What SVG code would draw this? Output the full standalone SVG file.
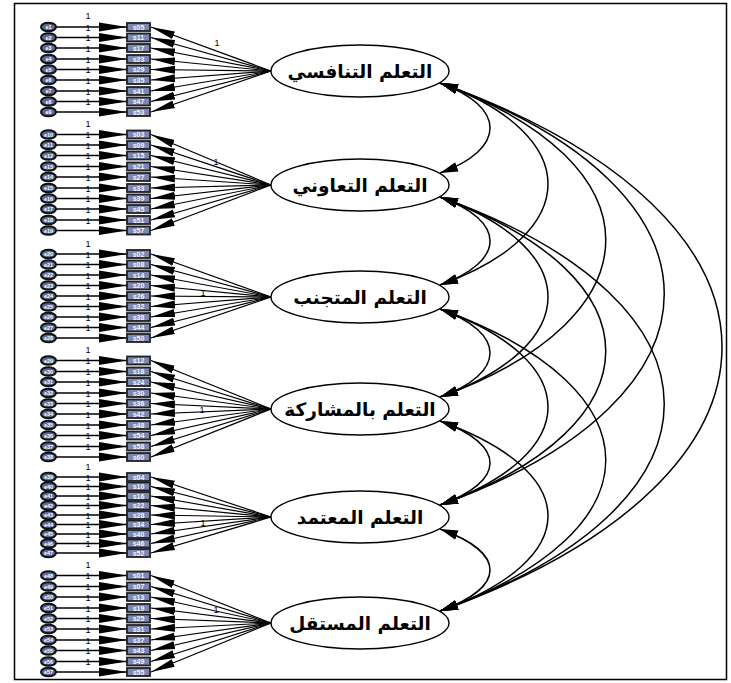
<svg xmlns="http://www.w3.org/2000/svg" width="731" height="683" viewBox="0 0 731 683">
<defs>
<marker id="ah1" markerUnits="userSpaceOnUse" markerWidth="28" markerHeight="10" refX="28" refY="5" orient="auto"><path d="M0,0.5 L28,5 L0,9.5 z" fill="#000"/></marker>
<marker id="ah2" markerUnits="userSpaceOnUse" markerWidth="24" markerHeight="10" refX="24" refY="5" orient="auto"><path d="M0,1 L24,5 L0,9 z" fill="#000"/></marker>
<marker id="ah3" markerUnits="userSpaceOnUse" markerWidth="18" markerHeight="11" refX="18" refY="5.5" orient="auto-start-reverse"><path d="M0,0.5 L18,5.5 L0,10.5 z" fill="#000"/></marker>
</defs>
<style>
.err ellipse{fill:#5d6a96;stroke:#111;stroke-width:2}
.err text{font-family:"Liberation Sans",Arial,sans-serif;font-weight:bold;font-size:5.5px;fill:#fff;text-anchor:middle}
.obs rect{fill:#7a88b2;stroke:#222;stroke-width:1.8}
.obs text{font-family:"Liberation Sans",Arial,sans-serif;font-weight:bold;font-size:7px;fill:#f4f4ff;text-anchor:middle}
.lat ellipse{fill:#fff;stroke:#000;stroke-width:1.4}
.lat text{font-family:"DejaVu Sans",sans-serif;font-weight:bold;font-size:18.5px;fill:#000;text-anchor:middle}
.ep{stroke:#000;stroke-width:1.4;marker-end:url(#ah1)}
.ld{stroke:#000;stroke-width:1.2;marker-end:url(#ah2)}
.cv{fill:none;stroke:#000;stroke-width:1.5;marker-start:url(#ah3);marker-end:url(#ah3)}
.one{font-family:"Liberation Sans",Arial,sans-serif;font-size:9px;fill:#000;text-anchor:middle}
</style>
<rect x="14.5" y="3.5" width="712" height="676" fill="#fff" stroke="#000" stroke-width="1.5"/>
<g id="connectors">
<!-- group 1 -->
<line class="ep" x1="56" y1="27" x2="127" y2="27"/><line class="ep" x1="56" y1="37.5" x2="127" y2="37.5"/><line class="ep" x1="56" y1="48" x2="127" y2="48"/><line class="ep" x1="56" y1="59" x2="127" y2="59"/><line class="ep" x1="56" y1="69.5" x2="127" y2="69.5"/><line class="ep" x1="56" y1="80" x2="127" y2="80"/><line class="ep" x1="56" y1="91" x2="127" y2="91"/><line class="ep" x1="56" y1="101.5" x2="127" y2="101.5"/><line class="ep" x1="56" y1="112" x2="127" y2="112"/>
<line class="ld" x1="271" y1="71" x2="151" y2="27"/><line class="ld" x1="271" y1="71" x2="151" y2="37.5"/><line class="ld" x1="271" y1="71" x2="151" y2="48"/><line class="ld" x1="271" y1="71" x2="151" y2="59"/><line class="ld" x1="271" y1="71" x2="151" y2="69.5"/><line class="ld" x1="271" y1="71" x2="151" y2="80"/><line class="ld" x1="271" y1="71" x2="151" y2="91"/><line class="ld" x1="271" y1="71" x2="151" y2="101.5"/><line class="ld" x1="271" y1="71" x2="151" y2="112"/>
<!-- group 2 -->
<line class="ep" x1="56" y1="134.5" x2="127" y2="134.5"/><line class="ep" x1="56" y1="145" x2="127" y2="145"/><line class="ep" x1="56" y1="155.5" x2="127" y2="155.5"/><line class="ep" x1="56" y1="166.5" x2="127" y2="166.5"/><line class="ep" x1="56" y1="177" x2="127" y2="177"/><line class="ep" x1="56" y1="188" x2="127" y2="188"/><line class="ep" x1="56" y1="198.5" x2="127" y2="198.5"/><line class="ep" x1="56" y1="209" x2="127" y2="209"/><line class="ep" x1="56" y1="220" x2="127" y2="220"/><line class="ep" x1="56" y1="230.5" x2="127" y2="230.5"/>
<line class="ld" x1="271" y1="185" x2="151" y2="134.5"/><line class="ld" x1="271" y1="185" x2="151" y2="145"/><line class="ld" x1="271" y1="185" x2="151" y2="155.5"/><line class="ld" x1="271" y1="185" x2="151" y2="166.5"/><line class="ld" x1="271" y1="185" x2="151" y2="177"/><line class="ld" x1="271" y1="185" x2="151" y2="188"/><line class="ld" x1="271" y1="185" x2="151" y2="198.5"/><line class="ld" x1="271" y1="185" x2="151" y2="209"/><line class="ld" x1="271" y1="185" x2="151" y2="220"/><line class="ld" x1="271" y1="185" x2="151" y2="230.5"/>
<!-- group 3 -->
<line class="ep" x1="56" y1="254" x2="127" y2="254"/><line class="ep" x1="56" y1="264.5" x2="127" y2="264.5"/><line class="ep" x1="56" y1="275" x2="127" y2="275"/><line class="ep" x1="56" y1="285.5" x2="127" y2="285.5"/><line class="ep" x1="56" y1="296" x2="127" y2="296"/><line class="ep" x1="56" y1="306.5" x2="127" y2="306.5"/><line class="ep" x1="56" y1="317" x2="127" y2="317"/><line class="ep" x1="56" y1="327.5" x2="127" y2="327.5"/><line class="ep" x1="56" y1="338" x2="127" y2="338"/>
<line class="ld" x1="271" y1="297" x2="151" y2="254"/><line class="ld" x1="271" y1="297" x2="151" y2="264.5"/><line class="ld" x1="271" y1="297" x2="151" y2="275"/><line class="ld" x1="271" y1="297" x2="151" y2="285.5"/><line class="ld" x1="271" y1="297" x2="151" y2="296"/><line class="ld" x1="271" y1="297" x2="151" y2="306.5"/><line class="ld" x1="271" y1="297" x2="151" y2="317"/><line class="ld" x1="271" y1="297" x2="151" y2="327.5"/><line class="ld" x1="271" y1="297" x2="151" y2="338"/>
<!-- group 4 -->
<line class="ep" x1="56" y1="360.5" x2="127" y2="360.5"/><line class="ep" x1="56" y1="371.5" x2="127" y2="371.5"/><line class="ep" x1="56" y1="382" x2="127" y2="382"/><line class="ep" x1="56" y1="393" x2="127" y2="393"/><line class="ep" x1="56" y1="403.5" x2="127" y2="403.5"/><line class="ep" x1="56" y1="414" x2="127" y2="414"/><line class="ep" x1="56" y1="425" x2="127" y2="425"/><line class="ep" x1="56" y1="435.5" x2="127" y2="435.5"/><line class="ep" x1="56" y1="446.5" x2="127" y2="446.5"/><line class="ep" x1="56" y1="457" x2="127" y2="457"/>
<line class="ld" x1="271" y1="409" x2="151" y2="360.5"/><line class="ld" x1="271" y1="409" x2="151" y2="371.5"/><line class="ld" x1="271" y1="409" x2="151" y2="382"/><line class="ld" x1="271" y1="409" x2="151" y2="393"/><line class="ld" x1="271" y1="409" x2="151" y2="403.5"/><line class="ld" x1="271" y1="409" x2="151" y2="414"/><line class="ld" x1="271" y1="409" x2="151" y2="425"/><line class="ld" x1="271" y1="409" x2="151" y2="435.5"/><line class="ld" x1="271" y1="409" x2="151" y2="446.5"/><line class="ld" x1="271" y1="409" x2="151" y2="457"/>
<!-- group 5 -->
<line class="ep" x1="56" y1="477" x2="127" y2="477"/><line class="ep" x1="56" y1="486.5" x2="127" y2="486.5"/><line class="ep" x1="56" y1="496" x2="127" y2="496"/><line class="ep" x1="56" y1="505.5" x2="127" y2="505.5"/><line class="ep" x1="56" y1="515" x2="127" y2="515"/><line class="ep" x1="56" y1="524.5" x2="127" y2="524.5"/><line class="ep" x1="56" y1="534" x2="127" y2="534"/><line class="ep" x1="56" y1="543.5" x2="127" y2="543.5"/><line class="ep" x1="56" y1="553" x2="127" y2="553"/>
<line class="ld" x1="271" y1="517" x2="151" y2="477"/><line class="ld" x1="271" y1="517" x2="151" y2="486.5"/><line class="ld" x1="271" y1="517" x2="151" y2="496"/><line class="ld" x1="271" y1="517" x2="151" y2="505.5"/><line class="ld" x1="271" y1="517" x2="151" y2="515"/><line class="ld" x1="271" y1="517" x2="151" y2="524.5"/><line class="ld" x1="271" y1="517" x2="151" y2="534"/><line class="ld" x1="271" y1="517" x2="151" y2="543.5"/><line class="ld" x1="271" y1="517" x2="151" y2="553"/>
<!-- group 6 -->
<line class="ep" x1="56" y1="575.5" x2="127" y2="575.5"/><line class="ep" x1="56" y1="586.5" x2="127" y2="586.5"/><line class="ep" x1="56" y1="597" x2="127" y2="597"/><line class="ep" x1="56" y1="608" x2="127" y2="608"/><line class="ep" x1="56" y1="618.5" x2="127" y2="618.5"/><line class="ep" x1="56" y1="629" x2="127" y2="629"/><line class="ep" x1="56" y1="640" x2="127" y2="640"/><line class="ep" x1="56" y1="650.5" x2="127" y2="650.5"/><line class="ep" x1="56" y1="661.5" x2="127" y2="661.5"/><line class="ep" x1="56" y1="672" x2="127" y2="672"/>
<line class="ld" x1="271" y1="623" x2="151" y2="575.5"/><line class="ld" x1="271" y1="623" x2="151" y2="586.5"/><line class="ld" x1="271" y1="623" x2="151" y2="597"/><line class="ld" x1="271" y1="623" x2="151" y2="608"/><line class="ld" x1="271" y1="623" x2="151" y2="618.5"/><line class="ld" x1="271" y1="623" x2="151" y2="629"/><line class="ld" x1="271" y1="623" x2="151" y2="640"/><line class="ld" x1="271" y1="623" x2="151" y2="650.5"/><line class="ld" x1="271" y1="623" x2="151" y2="661.5"/><line class="ld" x1="271" y1="623" x2="151" y2="672"/>
<!-- covariances -->
<path class="cv" d="M440,83 C506.7,107 506.7,149 440,173"/>
<path class="cv" d="M440,197 C506.7,221 506.7,261 440,285"/>
<path class="cv" d="M440,309 C506.7,333 506.7,373 440,397"/>
<path class="cv" d="M440,421 C506.7,445 506.7,481 440,505"/>
<path class="cv" d="M440,529 C506.7,553 506.7,587 440,611"/>
<path class="cv" d="M440,83 C584,135 584,233 440,285"/>
<path class="cv" d="M440,197 C584,249 584,345 440,397"/>
<path class="cv" d="M440,309 C584,361 584,453 440,505"/>
<path class="cv" d="M440,421 C584,473 584,559 440,611"/>
<path class="cv" d="M440,83 C661,163 661,317 440,397"/>
<path class="cv" d="M440,197 C661,277 661,425 440,505"/>
<path class="cv" d="M440,309 C661,389 661,531 440,611"/>
<path class="cv" d="M440,83 C739,190 739,398 440,505"/>
<path class="cv" d="M440,197 C739,304 739,504 440,611"/>
<path class="cv" d="M440,83 C816,218 816,476 440,611"/>
</g>
<g id="path-labels">
<text class="one" x="88" y="19">1</text><text class="one" x="88" y="30.5">1</text><text class="one" x="88" y="41">1</text><text class="one" x="88" y="51.5">1</text><text class="one" x="88" y="62.5">1</text><text class="one" x="88" y="73">1</text><text class="one" x="88" y="83.5">1</text><text class="one" x="88" y="94.5">1</text><text class="one" x="88" y="105">1</text>
<text class="one" x="88" y="127">1</text><text class="one" x="88" y="138">1</text><text class="one" x="88" y="148.5">1</text><text class="one" x="88" y="159">1</text><text class="one" x="88" y="170">1</text><text class="one" x="88" y="180.5">1</text><text class="one" x="88" y="191.5">1</text><text class="one" x="88" y="202">1</text><text class="one" x="88" y="212.5">1</text><text class="one" x="88" y="223.5">1</text>
<text class="one" x="88" y="246.5">1</text><text class="one" x="88" y="257.5">1</text><text class="one" x="88" y="268">1</text><text class="one" x="88" y="278.5">1</text><text class="one" x="88" y="289">1</text><text class="one" x="88" y="299.5">1</text><text class="one" x="88" y="310">1</text><text class="one" x="88" y="320.5">1</text><text class="one" x="88" y="331">1</text>
<text class="one" x="88" y="352.5">1</text><text class="one" x="88" y="364">1</text><text class="one" x="88" y="375">1</text><text class="one" x="88" y="385.5">1</text><text class="one" x="88" y="396.5">1</text><text class="one" x="88" y="407">1</text><text class="one" x="88" y="417.5">1</text><text class="one" x="88" y="428.5">1</text><text class="one" x="88" y="439">1</text><text class="one" x="88" y="450">1</text>
<text class="one" x="88" y="469.5">1</text><text class="one" x="88" y="480.5">1</text><text class="one" x="88" y="490">1</text><text class="one" x="88" y="499.5">1</text><text class="one" x="88" y="509">1</text><text class="one" x="88" y="518.5">1</text><text class="one" x="88" y="528">1</text><text class="one" x="88" y="537.5">1</text><text class="one" x="88" y="547">1</text>
<text class="one" x="88" y="568">1</text><text class="one" x="88" y="579">1</text><text class="one" x="88" y="590">1</text><text class="one" x="88" y="600.5">1</text><text class="one" x="88" y="611.5">1</text><text class="one" x="88" y="622">1</text><text class="one" x="88" y="632.5">1</text><text class="one" x="88" y="643.5">1</text><text class="one" x="88" y="654">1</text><text class="one" x="88" y="665">1</text>
<text class="one" x="217" y="46">1</text>
<text class="one" x="216" y="165">1</text>
<text class="one" x="203" y="296">1</text>
<text class="one" x="202" y="413">1</text>
<text class="one" x="203" y="526">1</text>
<text class="one" x="216" y="613">1</text>
</g>
<!-- error terms -->
<g id="e1" class="err"><ellipse cx="48.5" cy="27" rx="7.5" ry="4.3"/><text x="48.5" y="29">e1</text></g>
<g id="e2" class="err"><ellipse cx="48.5" cy="37.5" rx="7.5" ry="4.3"/><text x="48.5" y="39.5">e2</text></g>
<g id="e3" class="err"><ellipse cx="48.5" cy="48" rx="7.5" ry="4.3"/><text x="48.5" y="50">e3</text></g>
<g id="e4" class="err"><ellipse cx="48.5" cy="59" rx="7.5" ry="4.3"/><text x="48.5" y="61">e4</text></g>
<g id="e5" class="err"><ellipse cx="48.5" cy="69.5" rx="7.5" ry="4.3"/><text x="48.5" y="71.5">e5</text></g>
<g id="e6" class="err"><ellipse cx="48.5" cy="80" rx="7.5" ry="4.3"/><text x="48.5" y="82">e6</text></g>
<g id="e7" class="err"><ellipse cx="48.5" cy="91" rx="7.5" ry="4.3"/><text x="48.5" y="93">e7</text></g>
<g id="e8" class="err"><ellipse cx="48.5" cy="101.5" rx="7.5" ry="4.3"/><text x="48.5" y="103.5">e8</text></g>
<g id="e9" class="err"><ellipse cx="48.5" cy="112" rx="7.5" ry="4.3"/><text x="48.5" y="114">e9</text></g>
<g id="e10" class="err"><ellipse cx="48.5" cy="134.5" rx="7.5" ry="4.3"/><text x="48.5" y="136.5">e10</text></g>
<g id="e11" class="err"><ellipse cx="48.5" cy="145" rx="7.5" ry="4.3"/><text x="48.5" y="147">e11</text></g>
<g id="e12" class="err"><ellipse cx="48.5" cy="155.5" rx="7.5" ry="4.3"/><text x="48.5" y="157.5">e12</text></g>
<g id="e13" class="err"><ellipse cx="48.5" cy="166.5" rx="7.5" ry="4.3"/><text x="48.5" y="168.5">e13</text></g>
<g id="e14" class="err"><ellipse cx="48.5" cy="177" rx="7.5" ry="4.3"/><text x="48.5" y="179">e14</text></g>
<g id="e15" class="err"><ellipse cx="48.5" cy="188" rx="7.5" ry="4.3"/><text x="48.5" y="190">e15</text></g>
<g id="e16" class="err"><ellipse cx="48.5" cy="198.5" rx="7.5" ry="4.3"/><text x="48.5" y="200.5">e16</text></g>
<g id="e17" class="err"><ellipse cx="48.5" cy="209" rx="7.5" ry="4.3"/><text x="48.5" y="211">e17</text></g>
<g id="e18" class="err"><ellipse cx="48.5" cy="220" rx="7.5" ry="4.3"/><text x="48.5" y="222">e18</text></g>
<g id="e19" class="err"><ellipse cx="48.5" cy="230.5" rx="7.5" ry="4.3"/><text x="48.5" y="232.5">e19</text></g>
<g id="e20" class="err"><ellipse cx="48.5" cy="254" rx="7.5" ry="4.3"/><text x="48.5" y="256">e20</text></g>
<g id="e21" class="err"><ellipse cx="48.5" cy="264.5" rx="7.5" ry="4.3"/><text x="48.5" y="266.5">e21</text></g>
<g id="e22" class="err"><ellipse cx="48.5" cy="275" rx="7.5" ry="4.3"/><text x="48.5" y="277">e22</text></g>
<g id="e23" class="err"><ellipse cx="48.5" cy="285.5" rx="7.5" ry="4.3"/><text x="48.5" y="287.5">e23</text></g>
<g id="e24" class="err"><ellipse cx="48.5" cy="296" rx="7.5" ry="4.3"/><text x="48.5" y="298">e24</text></g>
<g id="e25" class="err"><ellipse cx="48.5" cy="306.5" rx="7.5" ry="4.3"/><text x="48.5" y="308.5">e25</text></g>
<g id="e26" class="err"><ellipse cx="48.5" cy="317" rx="7.5" ry="4.3"/><text x="48.5" y="319">e26</text></g>
<g id="e27" class="err"><ellipse cx="48.5" cy="327.5" rx="7.5" ry="4.3"/><text x="48.5" y="329.5">e27</text></g>
<g id="e28" class="err"><ellipse cx="48.5" cy="338" rx="7.5" ry="4.3"/><text x="48.5" y="340">e28</text></g>
<g id="e29" class="err"><ellipse cx="48.5" cy="360.5" rx="7.5" ry="4.3"/><text x="48.5" y="362.5">e29</text></g>
<g id="e30" class="err"><ellipse cx="48.5" cy="371.5" rx="7.5" ry="4.3"/><text x="48.5" y="373.5">e30</text></g>
<g id="e31" class="err"><ellipse cx="48.5" cy="382" rx="7.5" ry="4.3"/><text x="48.5" y="384">e31</text></g>
<g id="e32" class="err"><ellipse cx="48.5" cy="393" rx="7.5" ry="4.3"/><text x="48.5" y="395">e32</text></g>
<g id="e33" class="err"><ellipse cx="48.5" cy="403.5" rx="7.5" ry="4.3"/><text x="48.5" y="405.5">e33</text></g>
<g id="e34" class="err"><ellipse cx="48.5" cy="414" rx="7.5" ry="4.3"/><text x="48.5" y="416">e34</text></g>
<g id="e35" class="err"><ellipse cx="48.5" cy="425" rx="7.5" ry="4.3"/><text x="48.5" y="427">e35</text></g>
<g id="e36" class="err"><ellipse cx="48.5" cy="435.5" rx="7.5" ry="4.3"/><text x="48.5" y="437.5">e36</text></g>
<g id="e37" class="err"><ellipse cx="48.5" cy="446.5" rx="7.5" ry="4.3"/><text x="48.5" y="448.5">e37</text></g>
<g id="e38" class="err"><ellipse cx="48.5" cy="457" rx="7.5" ry="4.3"/><text x="48.5" y="459">e38</text></g>
<g id="e39" class="err"><ellipse cx="48.5" cy="477" rx="7.5" ry="4.3"/><text x="48.5" y="479">e39</text></g>
<g id="e40" class="err"><ellipse cx="48.5" cy="486.5" rx="7.5" ry="4.3"/><text x="48.5" y="488.5">e40</text></g>
<g id="e41" class="err"><ellipse cx="48.5" cy="496" rx="7.5" ry="4.3"/><text x="48.5" y="498">e41</text></g>
<g id="e42" class="err"><ellipse cx="48.5" cy="505.5" rx="7.5" ry="4.3"/><text x="48.5" y="507.5">e42</text></g>
<g id="e43" class="err"><ellipse cx="48.5" cy="515" rx="7.5" ry="4.3"/><text x="48.5" y="517">e43</text></g>
<g id="e44" class="err"><ellipse cx="48.5" cy="524.5" rx="7.5" ry="4.3"/><text x="48.5" y="526.5">e44</text></g>
<g id="e45" class="err"><ellipse cx="48.5" cy="534" rx="7.5" ry="4.3"/><text x="48.5" y="536">e45</text></g>
<g id="e46" class="err"><ellipse cx="48.5" cy="543.5" rx="7.5" ry="4.3"/><text x="48.5" y="545.5">e46</text></g>
<g id="e47" class="err"><ellipse cx="48.5" cy="553" rx="7.5" ry="4.3"/><text x="48.5" y="555">e47</text></g>
<g id="e48" class="err"><ellipse cx="48.5" cy="575.5" rx="7.5" ry="4.3"/><text x="48.5" y="577.5">e48</text></g>
<g id="e49" class="err"><ellipse cx="48.5" cy="586.5" rx="7.5" ry="4.3"/><text x="48.5" y="588.5">e49</text></g>
<g id="e50" class="err"><ellipse cx="48.5" cy="597" rx="7.5" ry="4.3"/><text x="48.5" y="599">e50</text></g>
<g id="e51" class="err"><ellipse cx="48.5" cy="608" rx="7.5" ry="4.3"/><text x="48.5" y="610">e51</text></g>
<g id="e52" class="err"><ellipse cx="48.5" cy="618.5" rx="7.5" ry="4.3"/><text x="48.5" y="620.5">e52</text></g>
<g id="e53" class="err"><ellipse cx="48.5" cy="629" rx="7.5" ry="4.3"/><text x="48.5" y="631">e53</text></g>
<g id="e54" class="err"><ellipse cx="48.5" cy="640" rx="7.5" ry="4.3"/><text x="48.5" y="642">e54</text></g>
<g id="e55" class="err"><ellipse cx="48.5" cy="650.5" rx="7.5" ry="4.3"/><text x="48.5" y="652.5">e55</text></g>
<g id="e56" class="err"><ellipse cx="48.5" cy="661.5" rx="7.5" ry="4.3"/><text x="48.5" y="663.5">e56</text></g>
<g id="e57" class="err"><ellipse cx="48.5" cy="672" rx="7.5" ry="4.3"/><text x="48.5" y="674">e57</text></g>
<!-- observed items -->
<g id="s05" class="obs"><rect x="127" y="23" width="23" height="8"/><text x="138.5" y="29.5">s05</text></g>
<g id="s11" class="obs"><rect x="127" y="33.5" width="23" height="8"/><text x="138.5" y="40">s11</text></g>
<g id="s17" class="obs"><rect x="127" y="44" width="23" height="8"/><text x="138.5" y="50.5">s17</text></g>
<g id="s23" class="obs"><rect x="127" y="55" width="23" height="8"/><text x="138.5" y="61.5">s23</text></g>
<g id="s29" class="obs"><rect x="127" y="65.5" width="23" height="8"/><text x="138.5" y="72">s29</text></g>
<g id="s35" class="obs"><rect x="127" y="76" width="23" height="8"/><text x="138.5" y="82.5">s35</text></g>
<g id="s41" class="obs"><rect x="127" y="87" width="23" height="8"/><text x="138.5" y="93.5">s41</text></g>
<g id="s47" class="obs"><rect x="127" y="97.5" width="23" height="8"/><text x="138.5" y="104">s47</text></g>
<g id="s53" class="obs"><rect x="127" y="108" width="23" height="8"/><text x="138.5" y="114.5">s53</text></g>
<g id="s03" class="obs"><rect x="127" y="130.5" width="23" height="8"/><text x="138.5" y="137">s03</text></g>
<g id="s09" class="obs"><rect x="127" y="141" width="23" height="8"/><text x="138.5" y="147.5">s09</text></g>
<g id="s15" class="obs"><rect x="127" y="151.5" width="23" height="8"/><text x="138.5" y="158">s15</text></g>
<g id="s21" class="obs"><rect x="127" y="162.5" width="23" height="8"/><text x="138.5" y="169">s21</text></g>
<g id="s27" class="obs"><rect x="127" y="173" width="23" height="8"/><text x="138.5" y="179.5">s27</text></g>
<g id="s33" class="obs"><rect x="127" y="184" width="23" height="8"/><text x="138.5" y="190.5">s33</text></g>
<g id="s39" class="obs"><rect x="127" y="194.5" width="23" height="8"/><text x="138.5" y="201">s39</text></g>
<g id="s45" class="obs"><rect x="127" y="205" width="23" height="8"/><text x="138.5" y="211.5">s45</text></g>
<g id="s51" class="obs"><rect x="127" y="216" width="23" height="8"/><text x="138.5" y="222.5">s51</text></g>
<g id="s57" class="obs"><rect x="127" y="226.5" width="23" height="8"/><text x="138.5" y="233">s57</text></g>
<g id="s02" class="obs"><rect x="127" y="250" width="23" height="8"/><text x="138.5" y="256.5">s02</text></g>
<g id="s08" class="obs"><rect x="127" y="260.5" width="23" height="8"/><text x="138.5" y="267">s08</text></g>
<g id="s14" class="obs"><rect x="127" y="271" width="23" height="8"/><text x="138.5" y="277.5">s14</text></g>
<g id="s20" class="obs"><rect x="127" y="281.5" width="23" height="8"/><text x="138.5" y="288">s20</text></g>
<g id="s26" class="obs"><rect x="127" y="292" width="23" height="8"/><text x="138.5" y="298.5">s26</text></g>
<g id="s32" class="obs"><rect x="127" y="302.5" width="23" height="8"/><text x="138.5" y="309">s32</text></g>
<g id="s38" class="obs"><rect x="127" y="313" width="23" height="8"/><text x="138.5" y="319.5">s38</text></g>
<g id="s44" class="obs"><rect x="127" y="323.5" width="23" height="8"/><text x="138.5" y="330">s44</text></g>
<g id="s50" class="obs"><rect x="127" y="334" width="23" height="8"/><text x="138.5" y="340.5">s50</text></g>
<g id="s12" class="obs"><rect x="127" y="356.5" width="23" height="8"/><text x="138.5" y="363">s12</text></g>
<g id="s18" class="obs"><rect x="127" y="367.5" width="23" height="8"/><text x="138.5" y="374">s18</text></g>
<g id="s24" class="obs"><rect x="127" y="378" width="23" height="8"/><text x="138.5" y="384.5">s24</text></g>
<g id="s30" class="obs"><rect x="127" y="389" width="23" height="8"/><text x="138.5" y="395.5">s30</text></g>
<g id="s36" class="obs"><rect x="127" y="399.5" width="23" height="8"/><text x="138.5" y="406">s36</text></g>
<g id="s42" class="obs"><rect x="127" y="410" width="23" height="8"/><text x="138.5" y="416.5">s42</text></g>
<g id="s48" class="obs"><rect x="127" y="421" width="23" height="8"/><text x="138.5" y="427.5">s48</text></g>
<g id="s54" class="obs"><rect x="127" y="431.5" width="23" height="8"/><text x="138.5" y="438">s54</text></g>
<g id="s58" class="obs"><rect x="127" y="442.5" width="23" height="8"/><text x="138.5" y="449">s58</text></g>
<g id="s60" class="obs"><rect x="127" y="453" width="23" height="8"/><text x="138.5" y="459.5">s60</text></g>
<g id="s04" class="obs"><rect x="127" y="473" width="23" height="8"/><text x="138.5" y="479.5">s04</text></g>
<g id="s10" class="obs"><rect x="127" y="482.5" width="23" height="8"/><text x="138.5" y="489">s10</text></g>
<g id="s16" class="obs"><rect x="127" y="492" width="23" height="8"/><text x="138.5" y="498.5">s16</text></g>
<g id="s22" class="obs"><rect x="127" y="501.5" width="23" height="8"/><text x="138.5" y="508">s22</text></g>
<g id="s28" class="obs"><rect x="127" y="511" width="23" height="8"/><text x="138.5" y="517.5">s28</text></g>
<g id="s34" class="obs"><rect x="127" y="520.5" width="23" height="8"/><text x="138.5" y="527">s34</text></g>
<g id="s40" class="obs"><rect x="127" y="530" width="23" height="8"/><text x="138.5" y="536.5">s40</text></g>
<g id="s46" class="obs"><rect x="127" y="539.5" width="23" height="8"/><text x="138.5" y="546">s46</text></g>
<g id="s52" class="obs"><rect x="127" y="549" width="23" height="8"/><text x="138.5" y="555.5">s52</text></g>
<g id="s01" class="obs"><rect x="127" y="571.5" width="23" height="8"/><text x="138.5" y="578">s01</text></g>
<g id="s07" class="obs"><rect x="127" y="582.5" width="23" height="8"/><text x="138.5" y="589">s07</text></g>
<g id="s13" class="obs"><rect x="127" y="593" width="23" height="8"/><text x="138.5" y="599.5">s13</text></g>
<g id="s19" class="obs"><rect x="127" y="604" width="23" height="8"/><text x="138.5" y="610.5">s19</text></g>
<g id="s25" class="obs"><rect x="127" y="614.5" width="23" height="8"/><text x="138.5" y="621">s25</text></g>
<g id="s31" class="obs"><rect x="127" y="625" width="23" height="8"/><text x="138.5" y="631.5">s31</text></g>
<g id="s37" class="obs"><rect x="127" y="636" width="23" height="8"/><text x="138.5" y="642.5">s37</text></g>
<g id="s43" class="obs"><rect x="127" y="646.5" width="23" height="8"/><text x="138.5" y="653">s43</text></g>
<g id="s49" class="obs"><rect x="127" y="657.5" width="23" height="8"/><text x="138.5" y="664">s49</text></g>
<g id="s55" class="obs"><rect x="127" y="668" width="23" height="8"/><text x="138.5" y="674.5">s55</text></g>
<!-- latent factors -->
<g id="f1" class="lat"><ellipse cx="360" cy="71" rx="89" ry="26"/><text x="360" y="78">التعلم التنافسي</text></g>
<g id="f2" class="lat"><ellipse cx="360" cy="185" rx="89" ry="26"/><text x="360" y="192">التعلم التعاوني</text></g>
<g id="f3" class="lat"><ellipse cx="360" cy="297" rx="89" ry="26"/><text x="360" y="304">التعلم المتجنب</text></g>
<g id="f4" class="lat"><ellipse cx="360" cy="409" rx="89" ry="26"/><text x="360" y="416">التعلم بالمشاركة</text></g>
<g id="f5" class="lat"><ellipse cx="360" cy="517" rx="89" ry="26"/><text x="360" y="524">التعلم المعتمد</text></g>
<g id="f6" class="lat"><ellipse cx="360" cy="623" rx="89" ry="26"/><text x="360" y="630">التعلم المستقل</text></g>
</svg>
